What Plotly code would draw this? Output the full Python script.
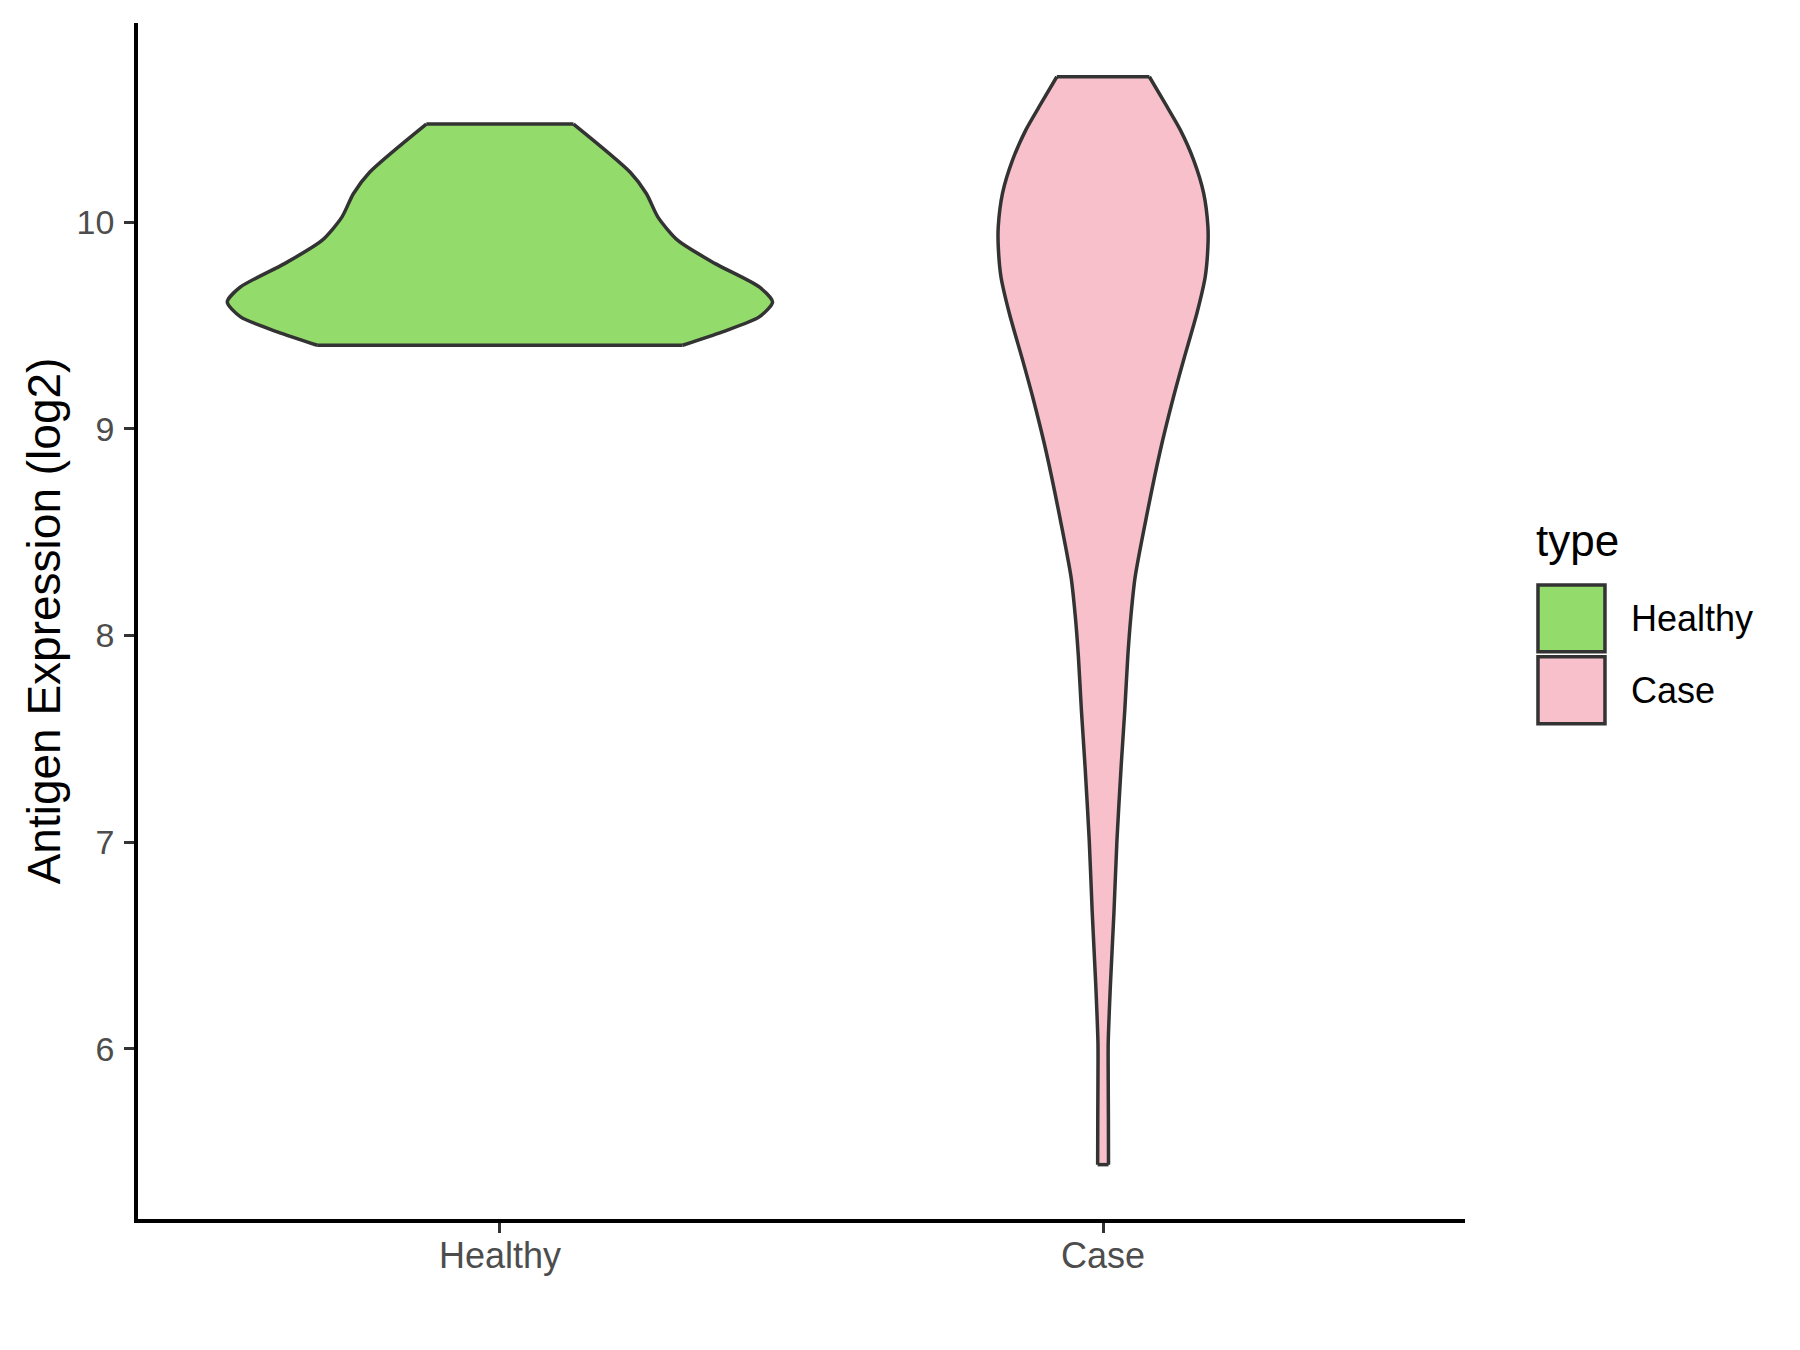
import plotly.graph_objects as go

# ---- data ----
categories = ["Healthy", "Case"]
fill_colors = ["#93DC6B", "#F7C0CB"]

# density profile: y level (log2 expression) and violin half-width (x units)
healthy_y = [10.474, 10.241, 10.137, 10.024, 9.911, 9.799, 9.686, 9.613, 9.541, 9.469, 9.404]
healthy_hw = [0.122, 0.216, 0.243, 0.262, 0.295, 0.357, 0.430, 0.452, 0.430, 0.369, 0.303]

case_y = [10.703, 10.558, 10.446, 10.301, 10.140, 9.978, 9.882, 9.737, 9.560, 9.334, 9.157,
          8.884, 8.539, 8.28, 8.09, 7.90, 7.64, 7.37, 7.01, 6.66, 6.30, 6.03, 5.85, 5.67, 5.44]
case_hw = [0.0767, 0.106, 0.128, 0.150, 0.1667, 0.1738, 0.1738, 0.1694, 0.1556, 0.1336, 0.117,
           0.094, 0.0695, 0.053, 0.046, 0.041, 0.036, 0.030, 0.023, 0.018, 0.012, 0.0085,
           0.0085, 0.0088, 0.009]

y_ticks = [6, 7, 8, 9, 10]

profiles = [(healthy_y, healthy_hw), (case_y, case_hw)]

FONT = "Liberation Sans, Arial, sans-serif"
OUTLINE = "#333333"
LW = 3.5

fig = go.Figure()
for i, (cat, (ys, hws)) in enumerate(zip(categories, profiles)):
    pos = i + 1
    left_x = [pos - w for w in hws]
    right_x = [pos + w for w in hws]
    side_line = dict(color=OUTLINE, width=LW, shape="spline", smoothing=0.7)
    fig.add_trace(go.Scatter(x=left_x, y=ys, mode="lines", line=side_line,
                             name=cat, showlegend=False, hoverinfo="skip"))
    fig.add_trace(go.Scatter(x=right_x, y=ys, mode="lines", line=side_line,
                             fill="tonextx", fillcolor=fill_colors[i],
                             name=cat, showlegend=False, hoverinfo="skip"))
    # flat top and bottom edges of the violin
    for k in (0, -1):
        fig.add_trace(go.Scatter(x=[left_x[k], right_x[k]], y=[ys[k], ys[k]], mode="lines",
                                 line=dict(color=OUTLINE, width=LW),
                                 showlegend=False, hoverinfo="skip"))

# page pixel -> figure pixel (body margin of 8px)
OFF = 8
W, H = 1800 - OFF, 1350 - OFF
L, R, T, B = 137.75 - OFF, 1465 - OFF, 23 - OFF, 1219.25 - OFF

def px_x(p):
    return (p - OFF - L) / (R - L)

def px_y(p):
    return (B - (p - OFF)) / (B - T)

shapes = []
annotations = []
# legend (ggplot style), positions in page pixels
annotations.append(dict(xref="paper", yref="paper", x=px_x(1534), y=px_y(541),
                        text="type", showarrow=False, xanchor="left", yanchor="middle",
                        font=dict(family=FONT, size=44, color="black")))
box_tops = [585, 657]
for i, cat in enumerate(categories):
    top = box_tops[i]
    shapes.append(dict(type="rect", xref="paper", yref="paper",
                       x0=px_x(1538), x1=px_x(1605), y0=px_y(top + 67), y1=px_y(top),
                       fillcolor=fill_colors[i], line=dict(color=OUTLINE, width=LW)))
    annotations.append(dict(xref="paper", yref="paper", x=px_x(1629), y=px_y(top + 34),
                            text=cat, showarrow=False, xanchor="left", yanchor="middle",
                            font=dict(family=FONT, size=36, color="black")))

fig.update_layout(
    width=W, height=H,
    margin=dict(l=L, r=W - R, t=T, b=H - B, pad=0),
    paper_bgcolor="white", plot_bgcolor="white",
    font=dict(family=FONT),
    showlegend=False,
    shapes=shapes, annotations=annotations,
    xaxis=dict(range=[0.4, 2.6], tickvals=[1, 2], ticktext=categories,
               showgrid=False, zeroline=False, showline=True, linecolor="black", linewidth=LW,
               ticks="outside", ticklen=10, tickwidth=3, tickcolor=OUTLINE,
               tickfont=dict(family=FONT, size=36, color="#4D4D4D"), ticklabelstandoff=-8),
    yaxis=dict(range=[5.177, 10.963], tickvals=y_ticks, ticktext=[str(v) for v in y_ticks],
               showgrid=False, zeroline=False, showline=True, linecolor="black", linewidth=LW,
               ticks="outside", ticklen=10, tickwidth=3, tickcolor=OUTLINE,
               tickfont=dict(family=FONT, size=34, color="#4D4D4D"), ticklabelstandoff=3,
               title=dict(text="Antigen Expression (log2)", standoff=3,
                          font=dict(family=FONT, size=46, color="black"))),
)

fig.write_html("out.html")
